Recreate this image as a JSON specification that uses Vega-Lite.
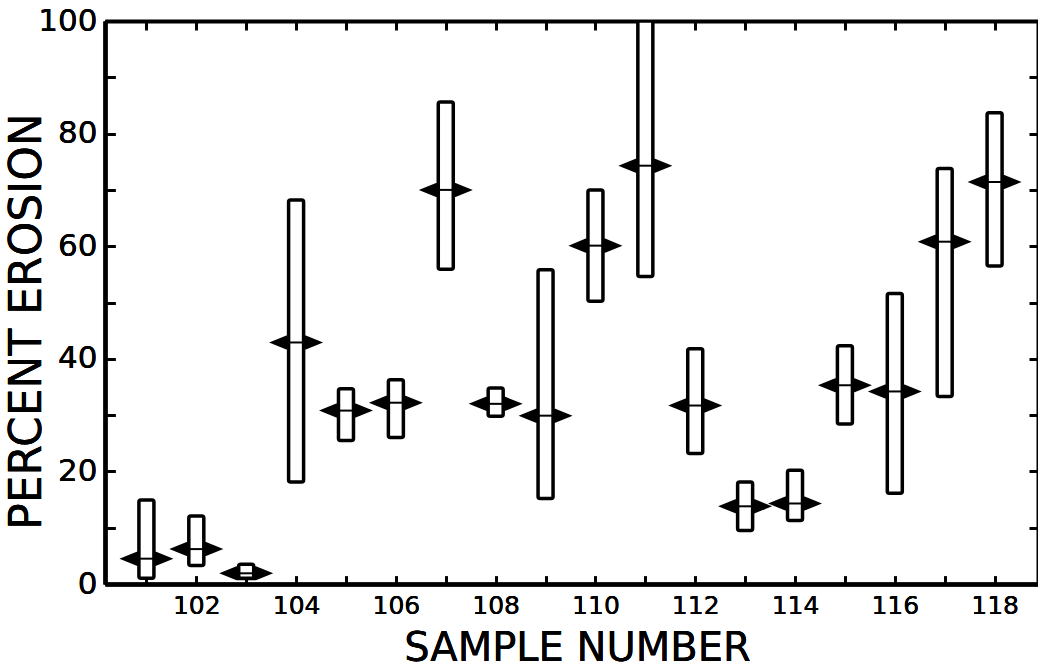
{
  "$schema": "https://vega.github.io/schema/vega-lite/v6.json",
  "width": 933,
  "height": 563,
  "autosize": "none",
  "padding": {"left": 105, "top": 21, "right": 0, "bottom": 85},
  "background": "white",
  "config": {
    "view": {"stroke": null},
    "font": "DejaVu Sans",
    "axis": {
      "domainColor": "black",
      "domainWidth": 4,
      "tickColor": "black",
      "tickWidth": 3,
      "labelColor": "black",
      "titleColor": "black",
      "labelFont": "DejaVu Sans",
      "titleFont": "DejaVu Sans",
      "titleFontWeight": "normal",
      "grid": false
    }
  },
  "data": {
    "values": [
      {"sample": 101, "lo": 1.0, "hi": 14.9, "mean": 4.5},
      {"sample": 102, "lo": 3.3, "hi": 12.1, "mean": 6.2},
      {"sample": 103, "lo": 1.0, "hi": 3.5, "mean": 1.9},
      {"sample": 104, "lo": 18.1, "hi": 68.2, "mean": 42.9},
      {"sample": 105, "lo": 25.5, "hi": 34.7, "mean": 30.8},
      {"sample": 106, "lo": 26.0, "hi": 36.3, "mean": 32.2},
      {"sample": 107, "lo": 55.9, "hi": 85.6, "mean": 70.0},
      {"sample": 108, "lo": 29.8, "hi": 34.8, "mean": 32.0},
      {"sample": 109, "lo": 15.2, "hi": 55.8, "mean": 29.9},
      {"sample": 110, "lo": 50.2, "hi": 70.0, "mean": 60.1},
      {"sample": 111, "lo": 54.6, "hi": 100, "mean": 74.3},
      {"sample": 112, "lo": 23.2, "hi": 41.8, "mean": 31.7},
      {"sample": 113, "lo": 9.5, "hi": 18.1, "mean": 13.8},
      {"sample": 114, "lo": 11.3, "hi": 20.2, "mean": 14.3},
      {"sample": 115, "lo": 28.4, "hi": 42.3, "mean": 35.3},
      {"sample": 116, "lo": 16.1, "hi": 51.6, "mean": 34.2},
      {"sample": 117, "lo": 33.3, "hi": 73.8, "mean": 60.8},
      {"sample": 118, "lo": 56.5, "hi": 83.7, "mean": 71.4}
    ]
  },
  "encoding": {
    "x": {
      "field": "sample",
      "type": "quantitative",
      "scale": {"domain": [100.27, 118.77], "nice": false, "zero": false},
      "axis": {
        "orient": "bottom",
        "values": [101,102,103,104,105,106,107,108,109,110,111,112,113,114,115,116,117,118],
        "labelExpr": "datum.value % 2 == 0 ? datum.label : ''",
        "tickSize": -8,
        "labelPadding": 17,
        "labelFontSize": 25,
        "title": "SAMPLE NUMBER",
        "titleFontSize": 40,
        "titleBaseline": "alphabetic",
        "titleY": 76,
        "titleX": 472
      }
    },
    "y": {
      "field": "mean",
      "type": "quantitative",
      "scale": {"domain": [0, 100], "nice": false},
      "axis": {
        "orient": "left",
        "values": [0,10,20,30,40,50,60,70,80,90,100],
        "labelExpr": "datum.value % 20 == 0 ? datum.label : ''",
        "tickSize": -10,
        "labelPadding": 18,
        "labelFontSize": 31,
        "title": "PERCENT EROSION",
        "titleFontSize": 44,
        "titleBaseline": "alphabetic",
        "titleX": -65,
        "titleY": 300
      }
    }
  },
  "layer": [
    {
      "mark": {
        "type": "point",
        "shape": "M-1,0 L-0.36,-0.26 L0.36,-0.26 L1,0 L0.36,0.26 L-0.36,0.26 Z",
        "size": 2916,
        "filled": true,
        "fill": "black",
        "strokeWidth": 0,
        "opacity": 1
      }
    },
    {
      "mark": {
        "type": "bar",
        "width": 15,
        "fill": "white",
        "stroke": "black",
        "strokeWidth": 3.5,
        "cornerRadius": 2,
        "clip": true
      },
      "encoding": {
        "y": {"field": "lo", "type": "quantitative"},
        "y2": {"field": "hi"}
      }
    },
    {
      "mark": {"type": "tick", "orient": "horizontal", "size": 14, "thickness": 2, "color": "black", "opacity": 1}
    },
    {
      "mark": {"type": "rule", "opacity": 0},
      "encoding": {
        "x": {
          "field": "sample",
          "type": "quantitative",
          "axis": {
            "orient": "top",
            "values": [101,102,103,104,105,106,107,108,109,110,111,112,113,114,115,116,117,118],
            "labels": false,
            "tickSize": -9,
            "title": null
          }
        },
        "y": {
          "field": "mean",
          "type": "quantitative",
          "axis": {
            "orient": "right",
            "values": [10,20,30,40,50,60,70,80,90],
            "labels": false,
            "tickSize": -9,
            "title": null
          }
        }
      }
    }
  ],
  "resolve": {"axis": {"x": "independent", "y": "independent"}}
}
